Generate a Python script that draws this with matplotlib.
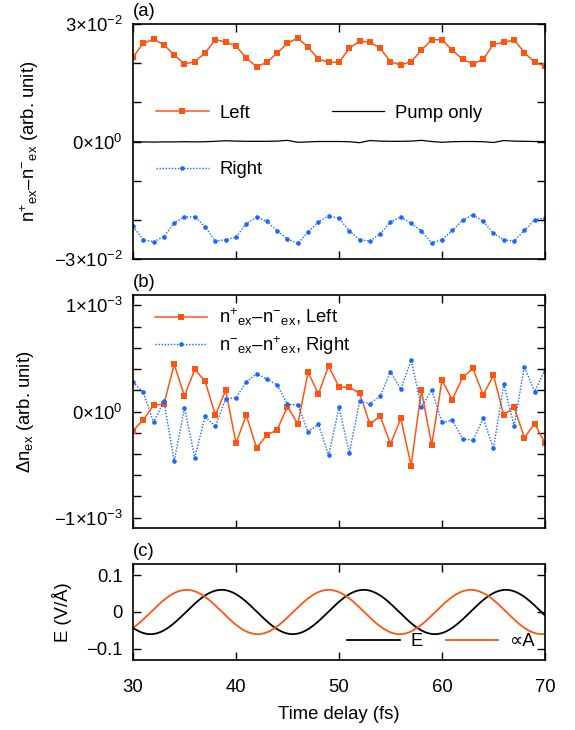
import numpy as np
import matplotlib
matplotlib.use('Agg')
import matplotlib.pyplot as plt
from matplotlib.ticker import FixedLocator, FixedFormatter
from matplotlib.legend import Legend

plt.rcParams['font.family'] = ['Liberation Sans', 'DejaVu Sans']
plt.rcParams['mathtext.fontset'] = 'custom'
plt.rcParams['mathtext.rm'] = 'Liberation Sans'
plt.rcParams['mathtext.it'] = 'Liberation Sans:italic'
plt.rcParams['mathtext.bf'] = 'Liberation Sans:bold'
plt.rcParams['mathtext.sf'] = 'Liberation Sans'
plt.rcParams['axes.unicode_minus'] = True

# ---------------- data ----------------
time_fs = np.arange(30, 71)  # 1 fs steps

# panel (a), units of 1e-2
left_a = [2.155, 2.51, 2.61, 2.47, 2.21, 1.98, 2.04, 2.26, 2.60, 2.54,
          2.44, 2.13, 1.91, 2.02, 2.26, 2.51, 2.64, 2.41, 2.10, 2.03,
          2.02, 2.38, 2.56, 2.54, 2.38, 2.04, 1.95, 2.04, 2.33, 2.60,
          2.60, 2.33, 2.10, 1.98, 2.10, 2.48, 2.53, 2.60, 2.27, 2.02,
          1.93]
right_a = [-2.17, -2.51, -2.56, -2.43, -2.07, -1.93, -1.92, -2.18, -2.54, -2.51,
           -2.44, -2.10, -1.93, -2.04, -2.28, -2.49, -2.60, -2.31, -2.05, -1.90,
           -1.96, -2.28, -2.51, -2.54, -2.36, -2.05, -1.93, -2.09, -2.28, -2.59,
           -2.51, -2.27, -2.01, -1.87, -2.04, -2.34, -2.51, -2.54, -2.27, -2.00,
           -1.95]
# pump only, units of 1e-4
pump_a = [-0.5, -1, -1.5, -1, -1, -0.5, -1, -0.5, 0.5,
          2, 1, 0.5, 0.5, 0.5, 1, 3, -2, -1, 0,
          0, 0, -0.5, -3, 2.5, 1, 0.5, 0.5, 1, 3,
          0, -2, -0.5, 0, 0, -0.5, -2.5, 2.5, 1, 0.5,
          0, 0]

# panel (b), units of 1e-3
left_b = [-0.181, -0.078, 0.06, 0.069, 0.444, 0.147, 0.397, 0.285, -0.034, 0.20,
          -0.297, -0.034, -0.343, -0.222, -0.172, 0.047, -0.118, 0.369, 0.166, 0.428,
          0.23, 0.228, 0.172, -0.118, -0.043, -0.306, -0.065, -0.509, 0.20, -0.315,
          0.294, 0.11, 0.322, 0.406, 0.156, 0.341, -0.034, 0.041, -0.247, -0.115,
          -0.297]
right_b = [0.278, 0.181, -0.103, 0.10, -0.465, 0.032, -0.434, -0.047, -0.141, 0.122,
           0.128, 0.278, 0.356, 0.304, 0.25, 0.066, 0.063, -0.193, -0.118, -0.412,
           0.041, -0.39, 0.097, 0.072, 0.147, 0.375, 0.21, 0.482, 0.044, 0.20,
           -0.103, -0.084, -0.256, -0.272, -0.065, -0.347, 0.256, -0.134, 0.422, 0.187,
           0.39]

# panel (c): laser field parameters
field_amp = 0.06       # V/A
field_period = 13.8    # fs
E_peak_time = 38.6     # fs
A_peak_time = 35.2     # fs

xticks = [30, 40, 50, 60, 70]
yticks_a = [-0.03, -0.02, -0.01, 0.0, 0.01, 0.02, 0.03]
ylabels_a = [r'$-3{\times}10^{-2}$', '', '', r'$0{\times}10^{0}$', '', '', r'$3{\times}10^{-2}$']
yticks_b = [-1e-3, -8e-4, -6e-4, -4e-4, -2e-4, 0, 2e-4, 4e-4, 6e-4, 8e-4, 1e-3]
ylabels_b = [r'$-1{\times}10^{-3}$', '', '', '', '', r'$0{\times}10^{0}$', '', '', '', '', r'$1{\times}10^{-3}$']
yticks_c = [-0.1, 0.0, 0.1]
ylabels_c = ['\u22120.1', '0', '0.1']

ORANGE = '#FF5512'
BLUE = '#1A66FF'
FS = 13.3

fig = plt.figure(figsize=(5.75, 7.3), dpi=100)
L, W = 0.2313, 0.7165
axA = fig.add_axes([L, 0.6452, W, 0.3219])
axB = fig.add_axes([L, 0.2763, W, 0.3200])
axC = fig.add_axes([L, 0.0959, W, 0.1315])

leg_kw = dict(frameon=False, borderpad=0, borderaxespad=0, handlelength=2.85,
              handletextpad=0.6, fontsize=FS, loc='center left')


def add_leg(ax, h, pos):
    lg = Legend(ax, [h], [h.get_label()], bbox_to_anchor=pos, **leg_kw)
    ax.add_artist(lg)


# ---- panel a
hL, = axA.plot(time_fs, np.array(left_a) * 1e-2, color=ORANGE, lw=1.1,
               marker='s', ms=3.7, mew=0, label='Left')
hP, = axA.plot(time_fs, np.array(pump_a) * 1e-4, color='black', lw=0.9,
               label='Pump only')
hR, = axA.plot(time_fs, np.array(right_a) * 1e-2, color=BLUE, lw=1.0,
               ls=(0, (1, 1.2)), marker='o', ms=3.3, mew=0, label='Right')
axA.set_ylim(-0.03, 0.03)
axA.yaxis.set_major_locator(FixedLocator(yticks_a))
axA.yaxis.set_major_formatter(FixedFormatter(ylabels_a))
add_leg(axA, hL, (0.0558, 0.62))
add_leg(axA, hP, (0.482, 0.62))
add_leg(axA, hR, (0.0558, 0.38))

# ---- panel b
t = time_fs
hbL, = axB.plot(t, np.array(left_b) * 1e-3, color=ORANGE, lw=1.1,
                marker='s', ms=3.7, mew=0,
                label=r'n$^{+}$$_{\mathrm{ex}}$–n$^{-}$$_{\mathrm{ex}}$, Left')
hbR, = axB.plot(t, np.array(right_b) * 1e-3, color=BLUE, lw=1.0,
                ls=(0, (1, 1.2)), marker='o', ms=3.3, mew=0,
                label=r'n$^{-}$$_{\mathrm{ex}}$–n$^{+}$$_{\mathrm{ex}}$, Right')
axB.set_ylim(-1.1e-3, 1.1e-3)
axB.yaxis.set_major_locator(FixedLocator(yticks_b))
axB.yaxis.set_major_formatter(FixedFormatter(ylabels_b))
add_leg(axB, hbL, (0.053, 0.903))
add_leg(axB, hbR, (0.053, 0.783))

# ---- panel c
tc = np.linspace(30, 70, 801)
E_field = field_amp * np.cos(2 * np.pi * (tc - E_peak_time) / field_period)
A_field = field_amp * np.cos(2 * np.pi * (tc - A_peak_time) / field_period)
hE, = axC.plot(tc, E_field, color='black', lw=1.3, label='E')
hA, = axC.plot(tc, A_field, color=ORANGE, lw=1.3, label='\u221dA')
axC.set_ylim(-0.13, 0.13)
axC.yaxis.set_major_locator(FixedLocator(yticks_c))
axC.yaxis.set_major_formatter(FixedFormatter(ylabels_c))
add_leg(axC, hE, (0.52, 0.19))
add_leg(axC, hA, (0.759, 0.19))

for ax in (axA, axB, axC):
    ax.set_xlim(30, 70)
    ax.set_xticks(xticks)
    ax.tick_params(axis='both', which='both', direction='in', top=True, right=True,
                   length=5.5, width=1.0, labelsize=FS)
    ax.tick_params(axis='y', pad=7.5)
    for s in ax.spines.values():
        s.set_linewidth(1.2)
for ax in (axA, axB):
    ax.tick_params(axis='x', labelbottom=False)
axC.tick_params(axis='x', pad=14)
axC.set_xlabel('Time delay (fs)', fontsize=FS, labelpad=7)

axA.set_ylabel(r'n$^{+}$$_{\mathrm{ex}}$–n$^{-}$$_{\mathrm{ex}}$ (arb. unit)', fontsize=FS, va='center')
axA.yaxis.set_label_coords(-0.252, 0.5)
axB.set_ylabel(r'$\mathit{\Delta}$n$_{\mathrm{ex}}$ (arb. unit)', fontsize=FS, va='center')
axB.yaxis.set_label_coords(-0.262, 0.5)
axC.set_ylabel('E (V/Å)', fontsize=FS, va='center')
axC.yaxis.set_label_coords(-0.172, 0.5)

for ax, lab in [(axA, '(a)'), (axB, '(b)'), (axC, '(c)')]:
    ax.annotate(lab, xy=(0, 1), xycoords='axes fraction', xytext=(0, 3),
                textcoords='offset points', ha='left', va='bottom', fontsize=FS)

fig.savefig('out.png', dpi=100)
